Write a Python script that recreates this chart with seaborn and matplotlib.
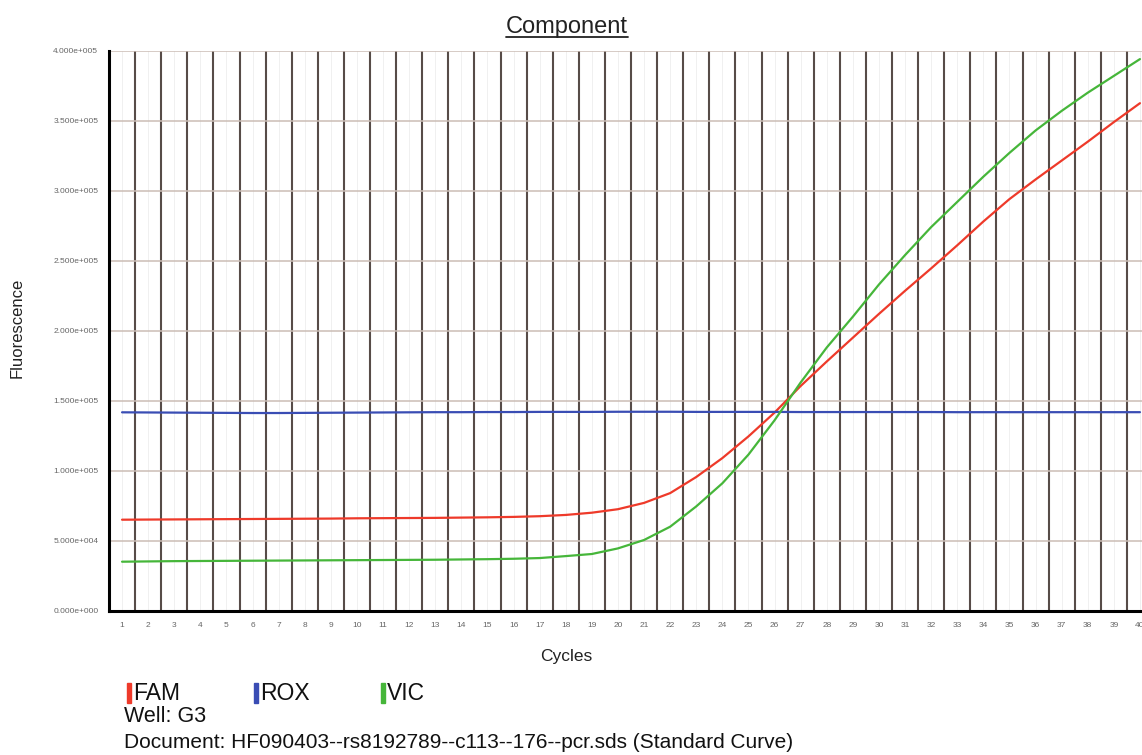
import numpy as np
import pandas as pd
import matplotlib
matplotlib.use("Agg")
import matplotlib.pyplot as plt
import seaborn as sns
from matplotlib.patches import Rectangle
from matplotlib.lines import Line2D
from matplotlib.ticker import FuncFormatter, FixedLocator

# ---------------- data (fluorescence in units of 1e5) ----------------
cycles = list(range(1, 41))
fam = [0.650, 0.651, 0.652, 0.653, 0.654, 0.655, 0.656, 0.657, 0.658, 0.660,
       0.661, 0.662, 0.663, 0.665, 0.667, 0.670, 0.675, 0.684, 0.700, 0.725,
       0.770, 0.840, 0.955, 1.090, 1.245, 1.415, 1.605, 1.780, 1.950, 2.120,
       2.285, 2.445, 2.610, 2.780, 2.940, 3.080, 3.215, 3.350, 3.490, 3.625]
rox = [1.417, 1.416, 1.415, 1.414, 1.413, 1.412, 1.412, 1.413, 1.414, 1.415,
       1.416, 1.417, 1.418, 1.418, 1.419, 1.419, 1.420, 1.420, 1.420, 1.421,
       1.421, 1.421, 1.420, 1.420, 1.420, 1.420, 1.419, 1.419, 1.419, 1.419,
       1.419, 1.419, 1.418, 1.418, 1.418, 1.418, 1.418, 1.418, 1.418, 1.418]
vic = [0.350, 0.352, 0.354, 0.355, 0.356, 0.357, 0.358, 0.359, 0.360, 0.361,
       0.362, 0.363, 0.364, 0.366, 0.368, 0.371, 0.376, 0.390, 0.405, 0.445,
       0.505, 0.600, 0.745, 0.910, 1.115, 1.360, 1.630, 1.880, 2.100, 2.330,
       2.540, 2.740, 2.920, 3.100, 3.270, 3.430, 3.570, 3.700, 3.820, 3.940]
series_names = ["FAM", "ROX", "VIC"]
series_colors = ["#ee3a2a", "#3a4db4", "#46b63a"]
y_ticks = [0, 50000, 100000, 150000, 200000, 250000, 300000, 350000, 400000]
title = "Component"
x_label = "Cycles"
y_label = "Fluorescence"
well_text = "Well: G3"
doc_text = "Document: HF090403--rs8192789--c113--176--pcr.sds (Standard Curve)"

df = pd.DataFrame({
    "Cycle": cycles * 3,
    "Fluorescence": [v * 1e5 for v in fam + rox + vic],
    "Dye": [n for n, s in zip(series_names, [fam, rox, vic]) for _ in s],
})

# ---------------- style ----------------
sns.set_style("white")
plt.rcParams["font.family"] = ["Liberation Sans", "DejaVu Sans"]

W, H = 1142, 755
fig = plt.figure(figsize=(W / 100, H / 100), dpi=100)
fig.patch.set_facecolor("white")
ax = fig.add_axes([109 / W, (H - 610.7) / H, (1153 - 109) / W, (610.7 - 50.7) / H])

ax.set_xlim(0.5, 40.5)
ax.set_ylim(0, 400000)

# grid: faint lines at cycle centres, dark lines at cycle boundaries
ax.xaxis.set_major_locator(FixedLocator(cycles))
ax.xaxis.set_minor_locator(FixedLocator([c + 0.5 for c in cycles]))
ax.yaxis.set_major_locator(FixedLocator(y_ticks))
ax.grid(False)
ax.grid(which="major", axis="y", color="#cbbdb5", lw=1.1, zorder=0)
ax.grid(which="major", axis="x", color="#eeeeee", lw=0.6, zorder=0)
ax.grid(which="minor", axis="x", color="#574c48", lw=1.5, zorder=1)
ax.set_axisbelow(True)

sns.lineplot(data=df, x="Cycle", y="Fluorescence", hue="Dye",
             hue_order=series_names, palette=series_colors,
             linewidth=1.6, legend=False, ax=ax, zorder=3)


def sci_fmt(v, pos):
    if v == 0:
        return "0.000e+000"
    e = int(np.floor(np.log10(abs(v))))
    m = v / 10 ** e
    return f"{m:.3f}e{e:+04d}"


ax.yaxis.set_major_formatter(FuncFormatter(sci_fmt))
ax.set_xticklabels([str(c) for c in cycles])
ax.tick_params(axis="y", which="both", length=0, pad=7.7, labelsize=6, labelcolor="#666666")
ax.tick_params(axis="x", which="both", length=0, pad=8.0, labelsize=6, labelcolor="#666666")

for s in ["top", "right"]:
    ax.spines[s].set_visible(False)
for s in ["left", "bottom"]:
    ax.spines[s].set_color("black")
    ax.spines[s].set_linewidth(2.2)
    ax.spines[s].set_zorder(5)

ax.set_xlabel("")
ax.set_ylabel("")

# axis labels
fig.text(566 / W, 1 - 656 / H, x_label, ha="center", va="center", fontsize=12.5, color="#222222")
fig.text(17 / W, 1 - 328 / H, y_label, ha="center", va="center", rotation=90, fontsize=12, color="#222222")

# title with underline
t = fig.text(567 / W, 1 - 27 / H, title, ha="center", va="center", fontsize=17, color="#222222")
fig.canvas.draw()
bb = t.get_window_extent(renderer=fig.canvas.get_renderer())
uy = (bb.y0 + 1) / H
fig.add_artist(Line2D([bb.x0 / W, bb.x1 / W], [uy, uy], color="#222222", lw=1.3, transform=fig.transFigure))

# legend row
leg_x = [127, 254, 381]
for name, col, lx in zip(series_names, series_colors, leg_x):
    fig.add_artist(Rectangle((lx / W, 1 - 703 / H), 4 / W, 20 / H, color=col, transform=fig.transFigure))
    fig.text((lx + 6) / W, 1 - 693 / H, name, ha="left", va="center", fontsize=16.5, color="#111111")

fig.text(124 / W, 1 - 717 / H, well_text, ha="left", va="center", fontsize=15.5, color="#111111")
fig.text(124 / W, 1 - 742 / H, doc_text, ha="left", va="center", fontsize=15, color="#111111")

fig.savefig("out.png", dpi=100, facecolor="white")
